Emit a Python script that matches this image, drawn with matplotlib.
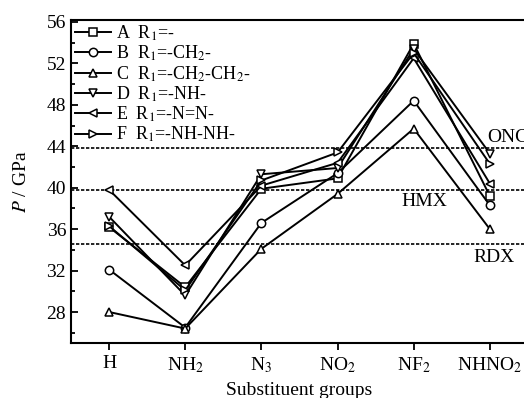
import numpy as np
import matplotlib
matplotlib.use('Agg')
import matplotlib.pyplot as plt
from matplotlib.ticker import MultipleLocator

plt.rcParams['font.family'] = ['Liberation Serif', 'DejaVu Serif']
plt.rcParams['mathtext.fontset'] = 'stix'

groups = ['H', 'NH$_2$', 'N$_3$', 'NO$_2$', 'NF$_2$', 'NHNO$_2$']
labels = ['A  R$_1$=-', 'B  R$_1$=-CH$_2$-', 'C  R$_1$=-CH$_2$-CH$_2$-',
          'D  R$_1$=-NH-', 'E  R$_1$=-N=N-', 'F  R$_1$=-NH-NH-']
markers = ['s', 'o', '^', 'v', '<', '>']

A = [36.2, 30.4, 39.9, 40.9, 53.9, 39.2]
B = [32.1, 26.5, 36.6, 41.4, 48.4, 38.3]
C = [28.0, 26.4, 34.1, 39.4, 45.7, 36.0]
D = [37.2, 29.6, 41.3, 41.9, 53.4, 43.3]
E = [39.8, 32.5, 40.2, 42.4, 52.5, 40.4]
F = [36.3, 30.1, 40.7, 43.4, 53.0, 42.3]
series = [A, B, C, D, E, F]

ref_names = ['ONC', 'HMX', 'RDX']
ref_vals = [43.8, 39.8, 34.6]

fig = plt.figure(figsize=(5.24, 3.98), dpi=100)
ax = fig.add_axes([0.1355, 0.138, 0.872, 0.812])
x = np.arange(len(groups))

for v in ref_vals:
    ax.axhline(v, color='black', lw=1.2, ls=(0, (2, 1)), zorder=1)

for s, m, lab in zip(series, markers, labels):
    ax.plot(x, s, color='black', lw=1.4, marker=m, markersize=6,
            markerfacecolor='white', markeredgecolor='black', markeredgewidth=1.1,
            label=lab, zorder=3)

# reference labels (ONC is cut by the right edge, like the original)
ax.text(4.96, 44.8, 'ONC', fontsize=14, va='center', ha='left')
ax.text(3.84, 38.7, 'HMX', fontsize=14, va='center', ha='left')
ax.text(4.78, 33.25, 'RDX', fontsize=14, va='center', ha='left')

ax.set_xlim(-0.5, 5.5)
ax.set_ylim(25, 56.2)
ax.set_xticks(x)
ax.set_xticklabels(groups, fontsize=14)
ax.yaxis.set_major_locator(MultipleLocator(4))
ax.yaxis.set_minor_locator(MultipleLocator(2))
ax.set_yticks(np.arange(28, 57, 4))
ax.tick_params(axis='y', which='both', direction='in', labelsize=14, width=1.3)
ax.tick_params(axis='y', which='major', length=5)
ax.tick_params(axis='y', which='minor', length=3)
ax.tick_params(axis='x', direction='out', length=5, width=1.3, labelsize=14)
for sp in ax.spines.values():
    sp.set_linewidth(1.5)

ax.set_xlabel('Substituent groups', fontsize=14, labelpad=5)
ax.set_ylabel('$\\mathit{P}$ / GPa', fontsize=14, labelpad=12)

ax.legend(loc='upper left', frameon=False, fontsize=13, handlelength=2.0,
          handletextpad=0.3, labelspacing=0.05, borderaxespad=0.1,
          borderpad=0.1)

fig.savefig('out.png', dpi=100)
